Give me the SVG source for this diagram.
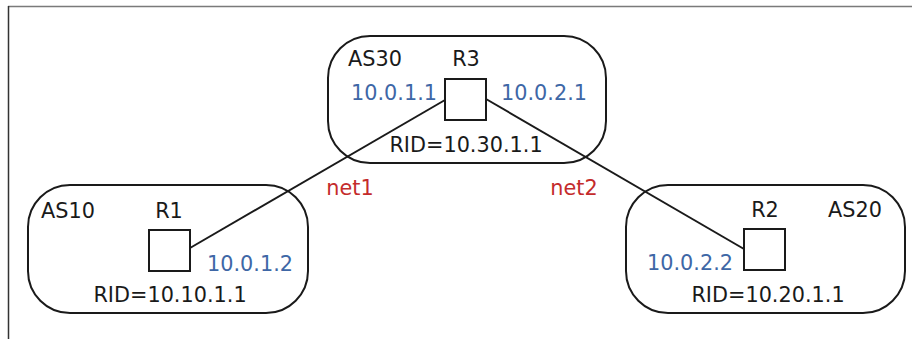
<svg xmlns="http://www.w3.org/2000/svg" width="912" height="339" viewBox="0 0 912 339">
<style>
text{font-family:"DejaVu Sans","Liberation Sans",sans-serif;font-size:20.8px;text-anchor:middle;fill:#1a1a1a}
.ip{fill:#3e67a6}
.net{fill:#c42b2b}
.as{fill:none;stroke:#1a1a1a;stroke-width:2}
.rt{fill:#fff;stroke:#1a1a1a;stroke-width:2}
.link{stroke:#1a1a1a;stroke-width:2;fill:none}
</style>
<rect width="912" height="339" fill="#fff"/>
<g id="frame">
<line x1="8" y1="6.5" x2="912" y2="6.5" stroke="#7a7a7a" stroke-width="1.5"/>
<line x1="8.5" y1="6" x2="8.5" y2="339" stroke="#333" stroke-width="1.5"/>
</g>
<g id="AS30">
<rect class="as" x="328" y="36" width="278" height="127" rx="42" ry="42"/>
<text x="375" y="66">AS30</text>
<text x="466" y="152">RID=10.30.1.1</text>
</g>
<g id="AS10">
<rect class="as" x="28" y="185" width="280" height="128" rx="42" ry="42"/>
<text x="68" y="218">AS10</text>
<text x="170" y="302">RID=10.10.1.1</text>
</g>
<g id="AS20">
<rect class="as" x="626" y="185" width="279" height="128" rx="42" ry="42"/>
<text x="855" y="217">AS20</text>
<text x="768" y="302">RID=10.20.1.1</text>
</g>
<g id="connectors">
<line class="link" x1="445" y1="100" x2="190" y2="248"/>
<line class="link" x1="486" y1="99" x2="744" y2="249"/>
<text class="net" x="350" y="195">net1</text>
<text class="net" x="574" y="195">net2</text>
</g>
<g id="R3">
<rect class="rt" x="445" y="79" width="41" height="41"/>
<text x="466" y="66">R3</text>
<text class="ip" x="394" y="100">10.0.1.1</text>
<text class="ip" x="544" y="100">10.0.2.1</text>
</g>
<g id="R1">
<rect class="rt" x="149" y="230" width="41" height="41"/>
<text x="169" y="218">R1</text>
<text class="ip" x="250" y="271">10.0.1.2</text>
</g>
<g id="R2">
<rect class="rt" x="744" y="229" width="41" height="41"/>
<text x="765" y="217">R2</text>
<text class="ip" x="690" y="270">10.0.2.2</text>
</g>
</svg>
